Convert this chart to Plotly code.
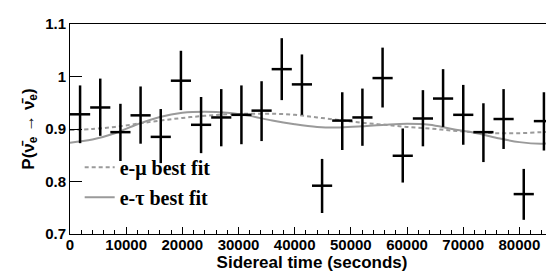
import plotly.graph_objects as go

# Data
day = 86164.0
nbins = 24
bin_centers = [(i + 0.5) * day / nbins for i in range(nbins)]
prob = [0.928, 0.941, 0.894, 0.926, 0.885, 0.992, 0.908, 0.922, 0.927, 0.935, 1.014, 0.985,
        0.792, 0.916, 0.922, 0.997, 0.849, 0.920, 0.958, 0.927, 0.894, 0.919, 0.776, 0.915]
err_hi = [0.055, 0.055, 0.054, 0.055, 0.053, 0.057, 0.053, 0.054, 0.056, 0.056, 0.059, 0.057,
          0.051, 0.054, 0.055, 0.058, 0.052, 0.054, 0.056, 0.057, 0.055, 0.057, 0.048, 0.055]
err_lo = [0.055, 0.054, 0.055, 0.054, 0.050, 0.056, 0.054, 0.055, 0.056, 0.058, 0.059, 0.058,
          0.052, 0.056, 0.054, 0.056, 0.051, 0.053, 0.054, 0.057, 0.057, 0.057, 0.049, 0.056]
bin_half = [day / nbins / 2] * nbins

fit_x = [0, 4000, 8000, 12000, 16000, 20000, 24000, 28000, 32000, 36000, 40000, 44000,
         48000, 52000, 56000, 60000, 64000, 68000, 72000, 76000, 80000, 84000, 86164]
emu_fit = [0.898, 0.900, 0.904, 0.910, 0.916, 0.921, 0.925, 0.928, 0.929, 0.929, 0.927, 0.922,
           0.917, 0.912, 0.908, 0.904, 0.901, 0.897, 0.894, 0.892, 0.892, 0.894, 0.895]
etau_fit = [0.874, 0.880, 0.892, 0.909, 0.923, 0.931, 0.933, 0.931, 0.925, 0.916, 0.909, 0.904,
            0.903, 0.905, 0.908, 0.910, 0.908, 0.900, 0.893, 0.883, 0.875, 0.872, 0.874]

x_ticks = [0, 10000, 20000, 30000, 40000, 50000, 60000, 70000, 80000]
y_ticks = [0.7, 0.8, 0.9, 1.0, 1.1]

fig = go.Figure()

fig.add_trace(go.Scatter(
    x=fit_x, y=emu_fit, mode="lines", name="e-\u03bc best fit", legend="legend",
    line=dict(color="#9a9a9a", width=2, dash="4px,3px", shape="spline"),
))
fig.add_trace(go.Scatter(
    x=fit_x, y=etau_fit, mode="lines", name="e-\u03c4 best fit", legend="legend2",
    line=dict(color="#9a9a9a", width=2, shape="spline"),
))
fig.add_trace(go.Scatter(
    x=bin_centers, y=prob, mode="markers", showlegend=False,
    marker=dict(size=1, color="black"),
    error_y=dict(type="data", symmetric=False, array=err_hi, arrayminus=err_lo,
                 color="black", thickness=2.5, width=0),
    error_x=dict(type="data", array=bin_half, color="black", thickness=2.5, width=0),
))

sans = "Liberation Sans, Arial, Helvetica, sans-serif"
legfont = dict(family="Liberation Serif, Times New Roman, serif", size=20,
               color="black", weight="bold")

fig.update_layout(
    width=554, height=272,
    margin=dict(l=62, r=7, t=12, b=46),
    paper_bgcolor="white", plot_bgcolor="white",
    showlegend=True,
    legend=dict(x=0.02, y=0.318, xanchor="left", yanchor="middle",
                bgcolor="rgba(0,0,0,0)", font=legfont, itemwidth=30),
    legend2=dict(x=0.02, y=0.175, xanchor="left", yanchor="middle",
                 bgcolor="rgba(0,0,0,0)", font=legfont, itemwidth=30),
    xaxis=dict(
        range=[0, day], tickvals=x_ticks, ticktext=[str(v) for v in x_ticks],
        ticks="inside", ticklen=7, tickwidth=1, tickcolor="black",
        minor=dict(dtick=2000, ticks="inside", ticklen=4, tickcolor="black", showgrid=False),
        showline=True, linecolor="black", linewidth=1, mirror=True,
        showgrid=False, zeroline=False, ticklabelstandoff=-3,
        tickfont=dict(family=sans, size=15, color="black", weight="bold"),
        title=dict(text="Sidereal time (seconds)", standoff=0,
                   font=dict(family=sans, size=17, color="black", weight="bold")),
    ),
    yaxis=dict(
        range=[0.7, 1.1], tickvals=y_ticks, ticktext=["0.7", "0.8", "0.9", "1", "1.1"],
        ticks="inside", ticklen=12, tickwidth=1, tickcolor="black",
        showline=True, linecolor="black", linewidth=1, mirror=True,
        showgrid=False, zeroline=False,
        tickfont=dict(family=sans, size=15, color="black", weight="bold"),
        title=dict(text="P(\u03bd\u0304<sub>e</sub> \u2192 \u03bd\u0304<sub>e</sub>)", standoff=6,
                   font=dict(family=sans, size=17, color="black", weight="bold")),
    ),
)

fig.write_html("out.html")
